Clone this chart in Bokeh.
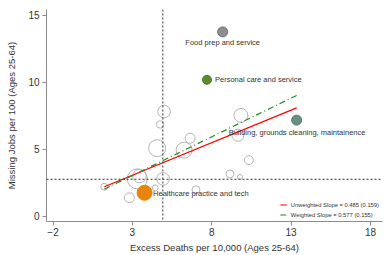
import numpy as np
from bokeh.plotting import figure
from bokeh.models import ColumnDataSource, Range1d, FixedTicker, Legend, LegendItem, Span
from bokeh.core.properties import value
from bokeh.embed import file_html
from bokeh.resources import INLINE

# ---- data -------------------------------------------------------------
# unlabelled occupations (hollow bubbles): excess deaths, missing jobs, weight
x_other = [5.0, 4.75, 9.84, 9.65, 6.64, 4.56, 6.26, 10.34, 3.31, 3.45, 4.94, 1.23, 4.44, 2.81, 7.01, 9.15, 9.78]
y_other = [7.81, 6.85, 7.52, 6.04, 5.82, 5.08, 4.93, 4.19, 2.79, 3.0, 2.79, 2.2, 2.12, 1.38, 1.97, 3.16, 2.93]
w_other = [40, 14, 49, 36, 25, 72, 64, 20, 100, 45, 40, 12, 9, 25, 16, 16, 6]

# labelled occupations
names = ["Food prep and service", "Personal care and service",
         "Building, grounds cleaning, maintainence", "Healthcare practice and tech"]
x_lab = [8.69, 7.70, 13.35, 3.77]
y_lab = [13.75, 10.18, 7.17, 1.75]
w_lab = [25, 20, 25, 56]

# fitted lines
slope_u, se_u, icpt_u = 0.485, 0.159, 1.61
slope_w, se_w, icpt_w = 0.577, 0.155, 1.31

# reference lines (means)
ref_x = 4.92
ref_y = 2.76

x_ticks = [-2, 3, 8, 13, 18]
y_ticks = [0, 5, 10, 15]

# ---- styles -----------------------------------------------------------
FONT = "Liberation Sans"
lab_colors = ["#8e8e8e", "#5e8a2e", "#6a8e80", "#e8840c"]
lab_lines = ["#707070", "#4e7a22", "#5a7e70", "#e8840c"]
lab_xoff = [0, 8, -68, 8.5]
lab_yoff = [11, 0, 12, 0.5]
lab_align = ["center", "left", "left", "left"]

p = figure(width=390, height=255, output_backend="svg", toolbar_location=None,
           x_range=Range1d(-2.41, 18.76), y_range=Range1d(-0.39, 15.42),
           min_border_left=46, min_border_right=8, min_border_top=9, min_border_bottom=32)
p.outline_line_color = None
p.grid.visible = False
p.background_fill_color = "white"

src_o = ColumnDataSource(dict(x=x_other, y=y_other, s=[2 * np.sqrt(w) for w in w_other]))
p.scatter("x", "y", size="s", source=src_o, fill_color=None, line_color="#b4b4b4", line_width=1)

p.add_layout(Span(location=ref_x, dimension="height", line_color="#333333", line_dash="2 2", line_width=1))
p.add_layout(Span(location=ref_y, dimension="width", line_color="#333333", line_dash="2 2", line_width=1))

all_x = np.array(x_other + x_lab)
xl = np.array([all_x.min(), all_x.max()])
r_u = p.line(xl, icpt_u + slope_u * xl, line_color="#ff0000", line_width=1.2)
r_w = p.line(xl, icpt_w + slope_w * xl, line_color="#1e8c1e", line_width=1.2, line_dash="6 3 1 3")

src_l = ColumnDataSource(dict(x=x_lab, y=y_lab, s=[2 * np.sqrt(w) for w in w_lab],
                              fc=lab_colors, lc=lab_lines))
p.scatter("x", "y", size="s", source=src_l, fill_color="fc", line_color="lc", line_width=1)

for i in range(len(names)):
    p.text(x=[x_lab[i]], y=[y_lab[i]], text=[names[i]], x_offset=lab_xoff[i], y_offset=lab_yoff[i],
           text_font=value(FONT), text_font_size="7.5px", text_color="#333333",
           text_align=lab_align[i], text_baseline="middle")

legend = Legend(items=[
    LegendItem(label=f"Unweighted Slope = {slope_u} ({se_u})", renderers=[r_u]),
    LegendItem(label=f"Weighted Slope = {slope_w} ({se_w})", renderers=[r_w]),
], location="bottom_right")
legend.border_line_alpha = 0
legend.background_fill_alpha = 0
legend.label_text_font = FONT
legend.label_text_font_size = "5.8px"
legend.label_text_color = "#333333"
legend.glyph_width = 7
legend.glyph_height = 7
legend.label_height = 7
legend.label_standoff = 4
legend.spacing = 3
legend.padding = 0
legend.margin = 3
p.add_layout(legend)

for ax in (p.xaxis[0], p.yaxis[0]):
    ax.axis_line_color = "#8c8c8c"
    ax.major_tick_line_color = "#8c8c8c"
    ax.minor_tick_line_color = None
    ax.major_tick_out = 4
    ax.major_tick_in = 0
    ax.major_label_text_font = FONT
    ax.major_label_text_font_size = "10px"
    ax.major_label_text_color = "#333333"
    ax.axis_label_text_font = FONT
    ax.axis_label_text_font_size = "9.5px"
    ax.axis_label_text_font_style = "normal"
    ax.axis_label_text_color = "#333333"

p.xaxis[0].ticker = FixedTicker(ticks=x_ticks)
p.yaxis[0].ticker = FixedTicker(ticks=y_ticks)
p.xaxis[0].axis_label = "Excess Deaths per 10,000 (Ages 25-64)"
p.yaxis[0].axis_label = "Missing Jobs per 100 (Ages 25-64)"
p.xaxis[0].major_label_standoff = 2
p.xaxis[0].axis_label_standoff = 3
p.yaxis[0].major_label_standoff = 3
p.yaxis[0].axis_label_standoff = 8

open("out.html", "w").write(file_html(p, INLINE))
